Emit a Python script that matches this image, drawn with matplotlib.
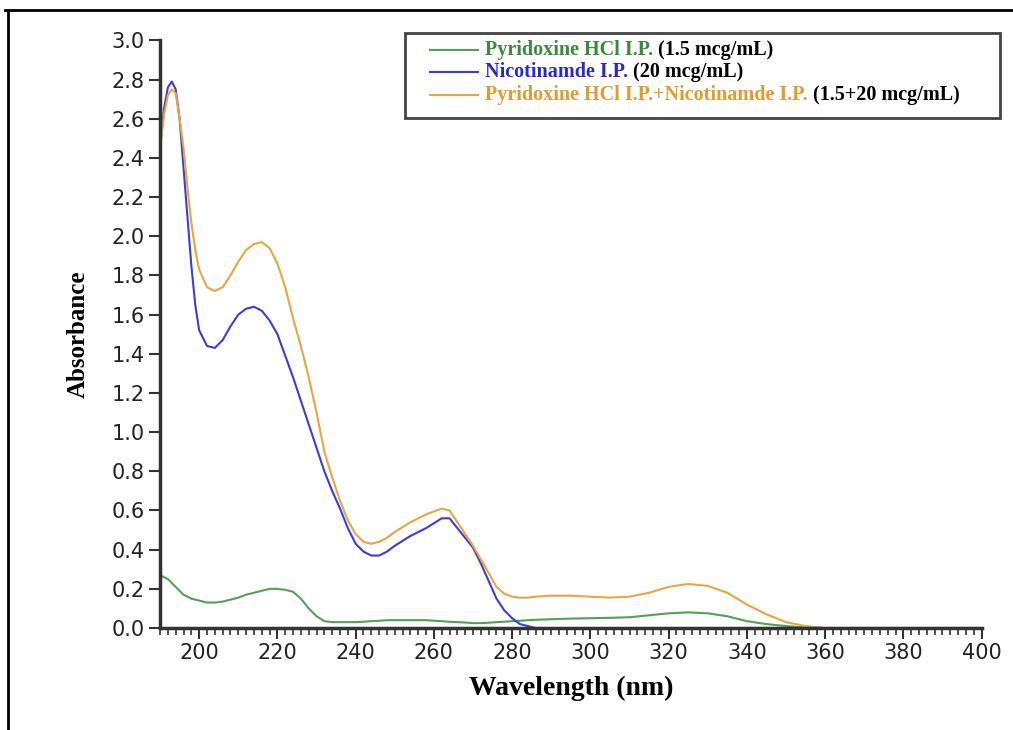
import matplotlib
matplotlib.use("Agg")
import matplotlib.pyplot as plt
from matplotlib.ticker import MultipleLocator, FormatStrFormatter
from matplotlib.patches import Rectangle
from matplotlib.lines import Line2D
from matplotlib.text import Annotation

# wavelength grid (nm) and absorbance
wl = [190, 191, 192, 193, 194, 195, 196, 197, 198, 199, 200, 202, 204, 206, 208,
      210, 212, 214, 216, 218, 220, 222, 224, 226, 228, 230, 232, 234, 236, 238,
      240, 242, 244, 246, 248, 250, 254, 258, 262, 264, 266, 268, 270, 272, 274,
      276, 278, 280, 282, 284, 286, 290, 295, 300, 305, 310, 315, 320, 325, 330,
      335, 340, 345, 350, 355, 360, 370, 380, 390, 400]

pyridoxine = [0.27, 0.26, 0.25, 0.23, 0.21, 0.19, 0.17, 0.16, 0.15, 0.145, 0.14, 0.13, 0.13, 0.135, 0.145,
              0.155, 0.17, 0.18, 0.19, 0.20, 0.20, 0.195, 0.185, 0.15, 0.10, 0.06, 0.035, 0.03, 0.03, 0.03,
              0.03, 0.032, 0.035, 0.037, 0.04, 0.04, 0.04, 0.04, 0.035, 0.032, 0.03, 0.028, 0.025, 0.025, 0.027,
              0.03, 0.032, 0.035, 0.037, 0.04, 0.042, 0.045, 0.048, 0.05, 0.052, 0.055, 0.065, 0.075, 0.08, 0.075,
              0.06, 0.035, 0.02, 0.01, 0.003, 0.0, 0.0, 0.0, 0.0, 0.0]

nicotinamide = [2.45, 2.65, 2.76, 2.79, 2.75, 2.60, 2.35, 2.10, 1.85, 1.65, 1.52, 1.44, 1.43, 1.47, 1.54,
                1.60, 1.63, 1.64, 1.62, 1.57, 1.50, 1.39, 1.28, 1.16, 1.04, 0.92, 0.80, 0.70, 0.61, 0.51,
                0.43, 0.39, 0.37, 0.37, 0.39, 0.42, 0.47, 0.51, 0.56, 0.56, 0.51, 0.46, 0.41, 0.33, 0.24,
                0.15, 0.09, 0.05, 0.02, 0.01, 0.0, 0.0, 0.0, 0.0, 0.0, 0.0, 0.0, 0.0, 0.0, 0.0,
                0.0, 0.0, 0.0, 0.0, 0.0, 0.0, 0.0, 0.0, 0.0, 0.0]

mixture = [2.45, 2.62, 2.72, 2.75, 2.73, 2.60, 2.45, 2.25, 2.07, 1.93, 1.83, 1.74, 1.72, 1.74, 1.80,
           1.87, 1.93, 1.96, 1.97, 1.94, 1.86, 1.74, 1.58, 1.44, 1.28, 1.10, 0.90, 0.77, 0.65, 0.55,
           0.48, 0.44, 0.43, 0.44, 0.46, 0.49, 0.54, 0.58, 0.61, 0.60, 0.54, 0.48, 0.42, 0.35, 0.28,
           0.21, 0.175, 0.16, 0.155, 0.155, 0.16, 0.165, 0.165, 0.16, 0.155, 0.16, 0.18, 0.21, 0.225, 0.215,
           0.18, 0.12, 0.07, 0.03, 0.01, 0.0, 0.0, 0.0, 0.0, 0.0]

names = ["Pyridoxine HCl I.P.", "Nicotinamde I.P.", "Pyridoxine HCl I.P.+Nicotinamde I.P."]
concs = [" (1.5 mcg/mL)", " (20 mcg/mL)", " (1.5+20 mcg/mL)"]
line_colors = ["#55a055", "#3c3cdc", "#e8a540"]
text_colors = ["#3a8a3a", "#2a2acc", "#e39a30"]

fig = plt.figure(figsize=(10.13, 7.3), dpi=100)
ax = fig.add_axes([0.158, 0.1397, 0.811, 0.805])

ax.plot(wl, pyridoxine, color=line_colors[0], lw=1.5)
ax.plot(wl, nicotinamide, color=line_colors[1], lw=1.5)
ax.plot(wl, mixture, color=line_colors[2], lw=1.5)

ax.set_xlim(190, 400)
ax.set_ylim(0, 3.0)
ax.xaxis.set_major_locator(MultipleLocator(20))
ax.xaxis.set_minor_locator(MultipleLocator(2))
ax.yaxis.set_major_locator(MultipleLocator(0.2))
ax.yaxis.set_major_formatter(FormatStrFormatter("%.1f"))

for s in ["top", "right"]:
    ax.spines[s].set_visible(False)
for s in ["left", "bottom"]:
    ax.spines[s].set_linewidth(2.5)
    ax.spines[s].set_color("#333333")

ax.tick_params(which="major", direction="out", length=8, width=1.5, color="#333333",
               labelsize=15, labelcolor="#222222", pad=3)
ax.tick_params(which="minor", direction="out", length=5, width=1.2, color="#333333")
for lab in ax.get_xticklabels() + ax.get_yticklabels():
    lab.set_family("DejaVu Sans")

ax.set_xlabel("Wavelength (nm)", family="Liberation Serif", fontweight="bold", fontsize=20, labelpad=9)
ax.set_ylabel("Absorbance", family="Liberation Serif", fontweight="bold", fontsize=18, labelpad=16)

# legend box drawn by hand so the concentration part can be black
fig.add_artist(Rectangle((0.400, 0.838), 0.587, 0.117, transform=fig.transFigure,
                         facecolor="white", edgecolor="#444444", lw=2, zorder=5))
rows = [0.9315, 0.9014, 0.8699]
for i in range(3):
    fig.add_artist(Line2D([0.424, 0.472], [rows[i], rows[i]], transform=fig.transFigure,
                          color=line_colors[i], lw=1.5, zorder=6))
    t = fig.text(0.479, rows[i], names[i], color=text_colors[i], family="Liberation Serif",
                 fontweight="bold", fontsize=14.5, va="center", zorder=6)
    fig.add_artist(Annotation(concs[i], xy=(1, 0), xycoords=t, va="bottom", ha="left",
                              family="Liberation Serif", fontweight="bold", fontsize=14.5,
                              color="black", annotation_clip=False, zorder=7))

# frame edges visible at the top and left of the original picture
fig.add_artist(Line2D([0.005, 1.0], [0.986, 0.986], transform=fig.transFigure, color="black", lw=2))
fig.add_artist(Line2D([0.008, 0.008], [0.0, 0.986], transform=fig.transFigure, color="black", lw=2))

fig.savefig("out.png", dpi=100)
